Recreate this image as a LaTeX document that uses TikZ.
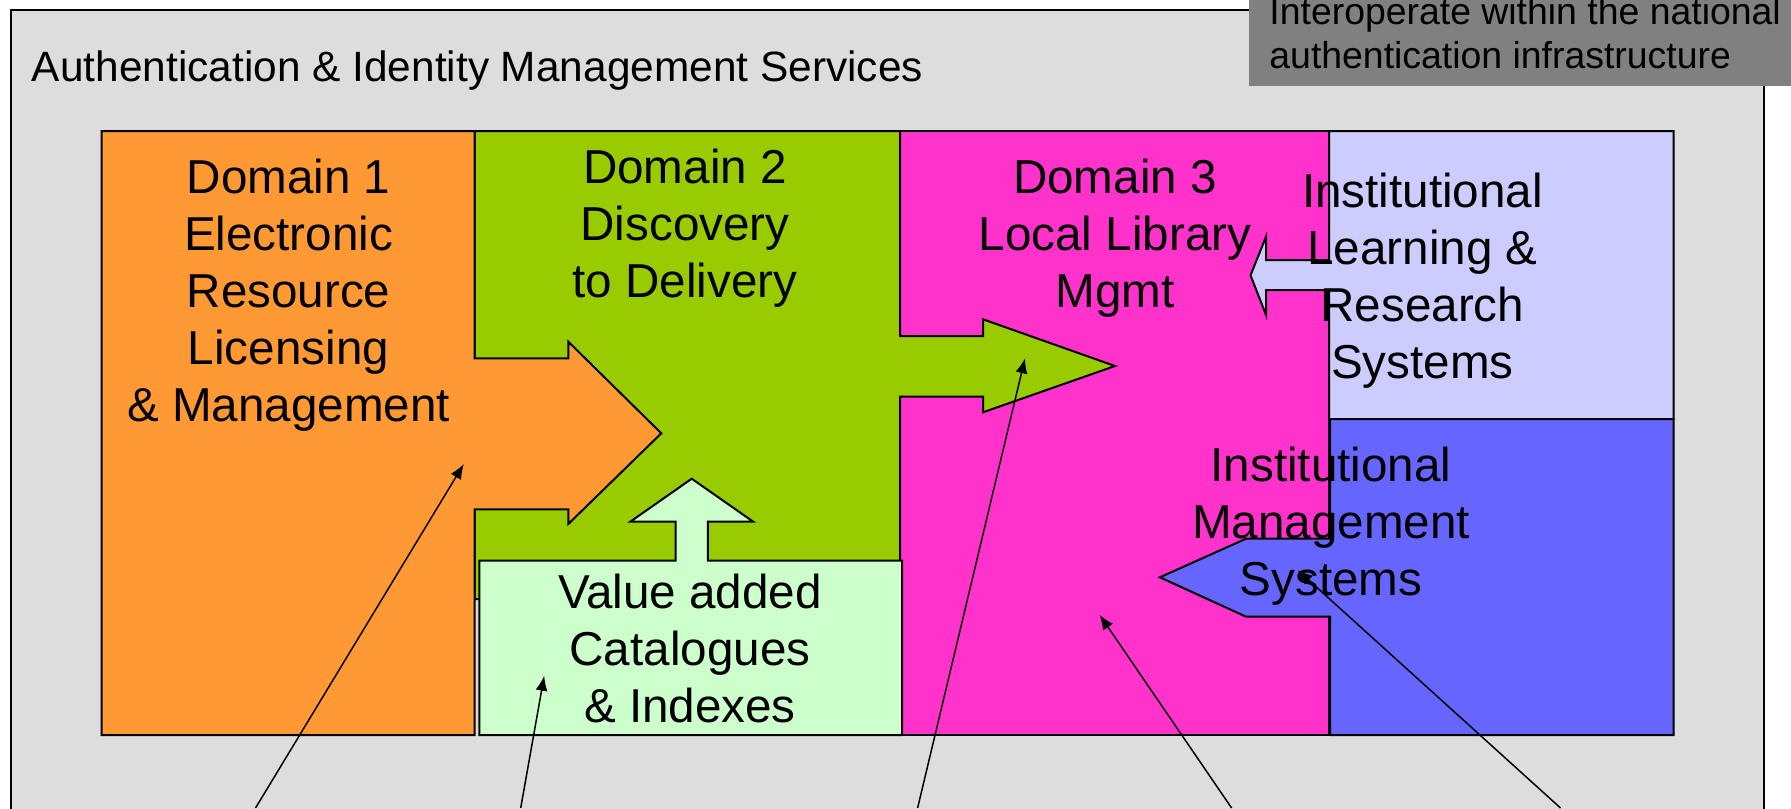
\documentclass[tikz,border=0pt]{standalone}
\usepackage{fontspec}
\setmainfont{Liberation Sans}
\usetikzlibrary{arrows.meta}

\definecolor{bggrey}{HTML}{DDDDDD}
\definecolor{natgrey}{HTML}{808080}
\definecolor{domorange}{HTML}{FF9933}
\definecolor{domgreen}{HTML}{99CC00}
\definecolor{dompink}{HTML}{FF33CC}
\definecolor{learnblue}{HTML}{CCCCFF}
\definecolor{mgmtblue}{HTML}{6666FF}
\definecolor{valuegreen}{HTML}{CCFFCC}

\begin{document}
\begin{tikzpicture}[x=0.5pt,y=-0.5pt,
		region/.style={draw=black, line width=1pt, line join=miter},
		lbl/.style={align=center, anchor=base, inner sep=0pt, font=\fontsize{23.8}{28.5}\selectfont},
		pointer/.style={line width=0.75pt, -{Latex[length=7.5pt,width=6pt]}}]
		\clip (0,0) rectangle (1791,808);

		% frame and header
		\draw [region, fill=bggrey] (11,10) rectangle (1764,900);
		\fill [natgrey] (1249,-10) rectangle (1800,85.7);
		\draw (31.6,81.7) node [anchor=base west, inner sep=0pt, font=\fontsize{21.2}{25}\selectfont] (title) {Authentication \& Identity Management Services};
		\draw (1269,68.3) node [anchor=base west, align=left, inner sep=0pt, font=\fontsize{18.7}{21.65}\selectfont] (natl) {Interoperate within the national\\authentication infrastructure};

		% domains
		\draw [region, fill=dompink] (900,131) rectangle (1329,735);
		\draw [region, fill=learnblue] (1329,131) -- (1673.6,131) -- (1673.6,419) -- (1329,419) -- (1329,290) -- (1266,290) -- (1266,315) -- (1250.5,275.3) -- (1266,236.7) -- (1266,260) -- (1329,260) -- cycle;
		\draw [region, fill=mgmtblue] (1330,419) -- (1673.6,419) -- (1673.6,735) -- (1330,735) -- (1330,616.7) -- (1246,616.7) -- (1159.8,577.3) -- (1246,538.7) -- (1330,538.7) -- cycle;
		\draw [region, fill=domgreen] (474.7,131) -- (900,131) -- (900,336) -- (983,336) -- (983,319.3) -- (1115,366) -- (983,412.3) -- (983,396.7) -- (900,396.7) -- (900,599) -- (474.7,599) -- cycle;
		\draw [region, fill=domorange] (101.6,131) -- (474.7,131) -- (474.7,358.3) -- (568.3,358.3) -- (568.3,341.7) -- (661.3,433.3) -- (568.3,524) -- (568.3,509.3) -- (474.7,509.3) -- (474.7,735) -- (101.6,735) -- cycle;
		\draw [region, fill=valuegreen] (479.3,560.7) -- (675.7,560.7) -- (675.7,521.7) -- (630.3,521.7) -- (691.7,478.7) -- (753.2,521.7) -- (707.8,521.7) -- (707.8,560.7) -- (902,560.7) -- (902,735) -- (479.3,735) -- cycle;

		% labels, placed at the baseline of their last line
		\draw (288.5,421.5) node [lbl] (dom1) {Domain 1\\Electronic\\Resource\\Licensing\\\& Management};
		\draw (685,297.3) node [lbl] (dom2) {Domain 2\\Discovery\\to Delivery};
		\draw (1115,307.3) node [lbl] (dom3) {Domain 3\\Local Library\\Mgmt};
		\draw (1422.4,378.8) node [lbl] (learn) {Institutional\\Learning \&\\Research\\Systems};
		\draw (1331,595) node [lbl] (mgmt) {Institutional\\Management\\Systems};
		\draw (690,722.5) node [lbl] (value) {Value added\\Catalogues\\\& Indexes};

		% pointers from below
		\coordinate (p1) at (255.5,808);
		\coordinate (t1) at (463.8,464);
		\coordinate (p2) at (520.7,808);
		\coordinate (t2) at (544.2,675.7);
		\coordinate (p3) at (917.6,808);
		\coordinate (t3) at (1025,358.3);
		\coordinate (p4) at (1231.6,808);
		\coordinate (t4) at (1099.5,614.7);
		\coordinate (p5) at (1560.5,808);
		\coordinate (t5) at (1297.6,570);

		\draw [pointer] (p1) -- (t1);
		\draw [pointer] (p2) -- (t2);
		\draw [pointer] (p3) -- (t3);
		\draw [pointer] (p4) -- (t4);
		\draw [pointer] (p5) -- (t5);
	\end{tikzpicture}
\end{document}
